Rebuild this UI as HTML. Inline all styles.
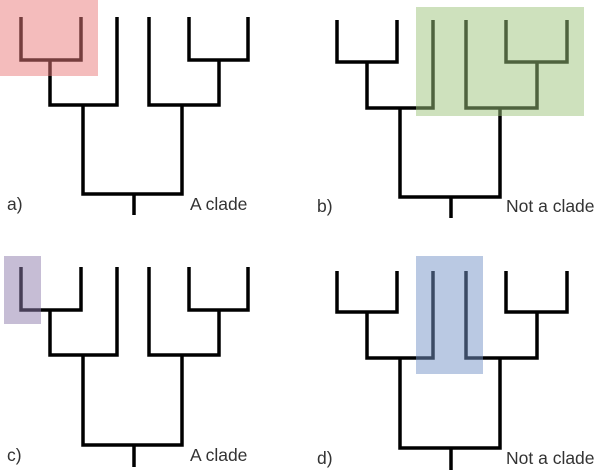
<!DOCTYPE html>
<html><head><meta charset="utf-8"><style>
html,body{margin:0;padding:0;background:#fff;}
svg{display:block;}
text{font-family:"Liberation Sans",sans-serif;font-size:17.5px;fill:#333;}
</style></head><body>
<svg width="600" height="470" viewBox="0 0 600 470" xmlns="http://www.w3.org/2000/svg">
<g fill="none" stroke="#000" stroke-width="3.5" stroke-linecap="butt" stroke-linejoin="miter">
<path d="M21,17 V60 H81 V17"/>
<path d="M50,60 V105 H117 V17"/>
<path d="M189,17 V60 H248 V17"/>
<path d="M219,60 V105 H149 V17"/>
<path d="M83,105 V194 H182 V105"/>
<path d="M134,194 V215"/>
<path d="M337,20 V62 H397 V20"/>
<path d="M367,62 V108 H433 V20"/>
<path d="M506,20 V62 H567 V20"/>
<path d="M537,62 V108 H466 V20"/>
<path d="M400,108 V197 H500 V108"/>
<path d="M451,197 V218"/>
<path d="M21,267 V310 H81 V267"/>
<path d="M50,310 V355 H117 V267"/>
<path d="M189,267 V310 H248 V267"/>
<path d="M219,310 V355 H149 V267"/>
<path d="M83,355 V445 H182 V355"/>
<path d="M134,445 V467"/>
<path d="M337,271 V312 H397 V271"/>
<path d="M367,312 V358 H433 V271"/>
<path d="M506,271 V312 H567 V271"/>
<path d="M537,312 V358 H466 V271"/>
<path d="M400,358 V448 H500 V358"/>
<path d="M451,448 V470"/>
</g>
<rect x="0" y="0" width="98" height="76" fill="#e97a7a" opacity="0.5"/>
<rect x="416" y="7" width="168" height="109" fill="#9dc47c" opacity="0.5"/>
<rect x="4" y="256" width="37" height="68" fill="#8d7bab" opacity="0.5"/>
<rect x="416" y="256" width="67" height="118" fill="#7593c7" opacity="0.5"/>
<text x="7" y="210">a)</text>
<text x="190" y="210">A clade</text>
<text x="317" y="212">b)</text>
<text x="506" y="212">Not a clade</text>
<text x="7" y="461">c)</text>
<text x="190" y="461">A clade</text>
<text x="317" y="464">d)</text>
<text x="506" y="464">Not a clade</text>
</svg>
</body></html>
